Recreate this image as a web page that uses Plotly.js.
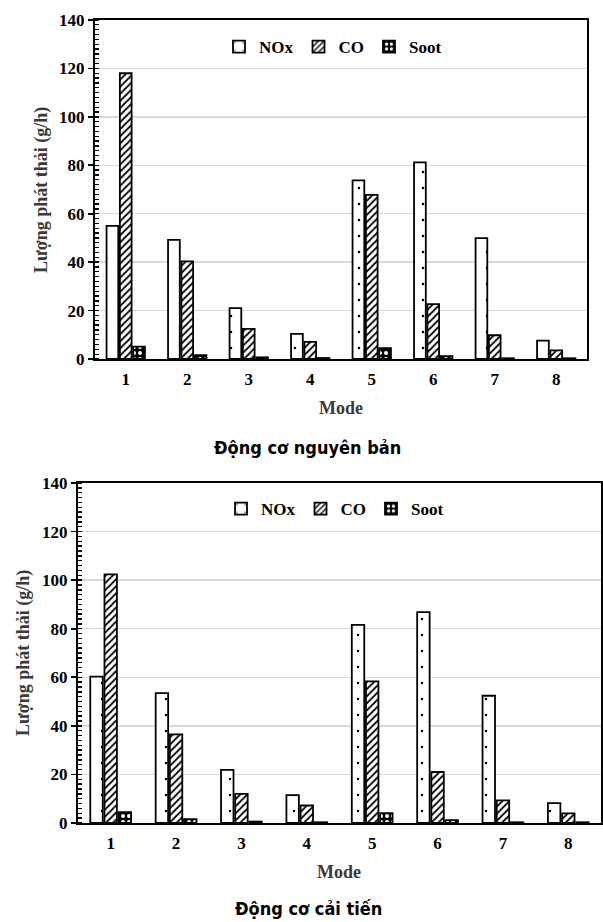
<!DOCTYPE html>
<html>
<head>
<meta charset="utf-8">
<script src="https://cdn.plot.ly/plotly-3.0.1.min.js"></script>
<style>html,body{margin:0;padding:0;background:#fff;}#chart{width:603px;height:922px;}</style>
</head>
<body>
<div id="chart"></div>
<script>
// ---- data ----
const modes = ['1', '2', '3', '4', '5', '6', '7', '8'];
const seriesNames = ['NOx', 'CO', 'Soot'];
// Động cơ nguyên bản (original engine)
const origNOx  = [55.0, 49.2, 21.0, 10.4, 73.8, 81.2, 49.9, 7.6];
const origCO   = [118.0, 40.3, 12.4, 7.1, 67.8, 22.7, 9.8, 3.6];
const origSoot = [5.1, 1.6, 0.7, 0.4, 4.5, 1.2, 0.3, 0.3];
// Động cơ cải tiến (improved engine)
const imprNOx  = [60.3, 53.5, 21.9, 11.5, 81.6, 86.8, 52.4, 8.2];
const imprCO   = [102.4, 36.5, 12.0, 7.2, 58.3, 21.0, 9.3, 4.0];
const imprSoot = [4.5, 1.6, 0.6, 0.3, 4.1, 1.2, 0.3, 0.3];
const yTickVals = [0, 20, 40, 60, 80, 100, 120, 140];
const subtitles = ['Động cơ nguyên bản', 'Động cơ cải tiến'];
const yTitle = 'Lượng phát thải (g/h)';
const xTitle = 'Mode';

// ---- styles ----
const serif = '"Liberation Serif", "Times New Roman", serif';
const tickFont = {family: serif, size: 17, color: '#000', weight: 700};
const legFont = {family: serif, size: 17, color: '#000', weight: 700};
const patterns = [
  {shape: '.', size: 16, solidity: 0.02, fgcolor: '#000', bgcolor: '#fff', fillmode: 'replace'},
  {shape: '/', size: 5, solidity: 0.35, fgcolor: '#000', bgcolor: '#fff', fillmode: 'replace'},
  {shape: '.', size: 6, solidity: 0.35, fgcolor: '#fff', bgcolor: '#000', fillmode: 'replace'}
];

function makeTraces(vals, xa, ya, leg) {
  return vals.map((v, i) => ({
    type: 'bar', x: modes, y: v, name: seriesNames[i],
    xaxis: xa, yaxis: ya, legend: leg,
    marker: {color: '#fff', pattern: patterns[i], line: {color: '#000', width: 1.8}},
    hoverinfo: 'skip'
  }));
}

const data = [
  ...makeTraces([origNOx, origCO, origSoot], 'x', 'y', 'legend'),
  ...makeTraces([imprNOx, imprCO, imprSoot], 'x2', 'y2', 'legend2')
];

const W = 603, H = 922;
function xd(a, b) { return [a / W, b / W]; }
function yd(top, bottom) { return [(H - bottom) / H, (H - top) / H]; }

function yAxis(domain, anchor) {
  return {
    domain: domain, anchor: anchor, range: [0, 140],
    tickvals: yTickVals, ticks: 'outside', ticklen: 5, tickwidth: 1.8, tickcolor: '#000',
    minor: {dtick: 2, ticks: 'inside', ticklen: 4, tickwidth: 1.3, tickcolor: '#000', showgrid: false},
    showgrid: true, gridcolor: '#d9d9d9', gridwidth: 1.5,
    showline: true, linecolor: '#000', linewidth: 2, mirror: true,
    tickfont: tickFont, zeroline: false, fixedrange: true
  };
}
function xAxis(domain, anchor) {
  return {
    domain: domain, anchor: anchor, type: 'category',
    showline: true, linecolor: '#000', linewidth: 2, mirror: true,
    ticks: '', tickfont: tickFont, ticklabelstandoff: 4, showgrid: false, fixedrange: true
  };
}

const legendBase = {
  orientation: 'h', xanchor: 'center', yanchor: 'middle',
  font: legFont, bgcolor: 'rgba(0,0,0,0)', itemwidth: 30, traceorder: 'normal'
};

const titleFont = {family: serif, size: 18, color: '#3a3a3a', weight: 700};
const subFont = {family: '"DejaVu Sans Condensed", "DejaVu Sans", sans-serif', size: 18, color: '#000', weight: 700};

const layout = {
  width: W, height: H,
  margin: {l: 0, r: 0, t: 0, b: 0},
  paper_bgcolor: '#fff', plot_bgcolor: '#fff',
  showlegend: true,
  bargap: 0.35, bargroupgap: 0.12, barmode: 'group',
  xaxis: xAxis(xd(95, 587), 'y'),
  yaxis: yAxis(yd(20, 359), 'x'),
  xaxis2: xAxis(xd(78, 601), 'y2'),
  yaxis2: yAxis(yd(483, 823), 'x2'),
  legend: Object.assign({}, legendBase, {x: 333 / W, y: (H - 47) / H}),
  legend2: Object.assign({}, legendBase, {x: 335 / W, y: (H - 509) / H}),
  annotations: [
    {text: xTitle, xref: 'paper', yref: 'paper', x: 341 / W, y: (H - 408) / H, showarrow: false, font: titleFont, xanchor: 'center', yanchor: 'middle'},
    {text: xTitle, xref: 'paper', yref: 'paper', x: 339 / W, y: (H - 872) / H, showarrow: false, font: titleFont, xanchor: 'center', yanchor: 'middle'},
    {text: yTitle, xref: 'paper', yref: 'paper', x: 41 / W, y: (H - 190) / H, showarrow: false, font: titleFont, textangle: -90, xanchor: 'center', yanchor: 'middle'},
    {text: yTitle, xref: 'paper', yref: 'paper', x: 23 / W, y: (H - 653) / H, showarrow: false, font: titleFont, textangle: -90, xanchor: 'center', yanchor: 'middle'},
    {text: subtitles[0], xref: 'paper', yref: 'paper', x: 307 / W, y: (H - 447) / H, showarrow: false, font: subFont, xanchor: 'center', yanchor: 'middle'},
    {text: subtitles[1], xref: 'paper', yref: 'paper', x: 308 / W, y: (H - 908) / H, showarrow: false, font: subFont, xanchor: 'center', yanchor: 'middle'}
  ]
};

Plotly.newPlot('chart', data, layout, {staticPlot: true, displayModeBar: false});
</script>
</body>
</html>
